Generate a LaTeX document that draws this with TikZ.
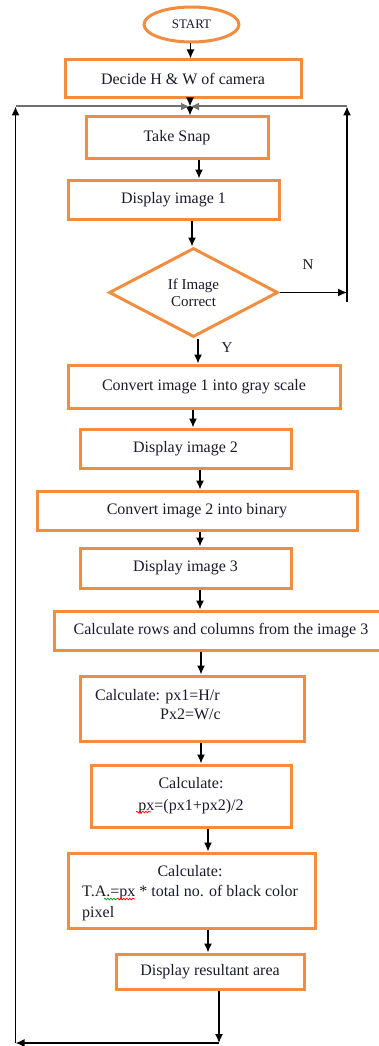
\documentclass[tikz,border=0pt]{standalone}
\usepackage{fontspec}
\setmainfont{Liberation Serif}
\usetikzlibrary{shapes.geometric,arrows.meta,decorations.pathmorphing}
\definecolor{boxorange}{HTML}{F28C3E}
\definecolor{toplinegray}{HTML}{707070}
\definecolor{inkblack}{HTML}{1A1A2A}
\begin{document}
\begin{tikzpicture}[x=1pt,y=-1pt,
  box/.style={draw=boxorange,line width=3pt,inner sep=0pt,align=center,text=inkblack,
    font=\fontsize{16}{22}\selectfont},
  txt/.style={inner sep=0pt,text=inkblack,font=\fontsize{16}{20}\selectfont},
  conn/.style={draw=black,line width=1.4pt,-{Latex[length=9pt,width=8pt]}},
  squig/.style={line width=0.7pt,decorate,decoration={snake,amplitude=0.8pt,segment length=3pt}}]
\useasboundingbox (0,0) rectangle (378,1046);

% nodes
\node[ellipse,draw=boxorange,line width=3pt,minimum width=95pt,minimum height=35pt,inner sep=0pt,
  text=inkblack,font=\fontsize{13}{14}\selectfont] (start) at (191.5,24.5) {START};
\node[box,minimum width=236pt,minimum height=38pt] (decide) at (183,79) {Decide H \& W of camera};
\node[box,minimum width=182pt,minimum height=41pt] (snap) at (177,137.5) {Take Snap};
\node[box,minimum width=211pt,minimum height=39pt] (disp1) at (173.5,199.5) {Display image 1};
\node[diamond,draw=boxorange,line width=3pt,minimum width=169pt,minimum height=89pt,inner sep=0pt,
  align=center,text=inkblack,font=\fontsize{15}{17}\selectfont] (dec) at (193.5,292.5) {If Image\\Correct};
\node[box,minimum width=272pt,minimum height=43pt] (conv1) at (204,386.5) {Convert image 1 into gray scale};
\node[box,minimum width=211pt,minimum height=39pt] (disp2) at (185.5,448.5) {Display image 2};
\node[box,minimum width=320pt,minimum height=39pt] (conv2) at (197,510.5) {Convert image 2 into binary};
\node[box,minimum width=211pt,minimum height=40pt] (disp3) at (185.5,568) {Display image 3};
\node[box,minimum width=334pt,minimum height=39pt] (rows) at (221,630.5) {Calculate rows and columns from the image 3};
\node[box,minimum width=224pt,minimum height=65pt] (calc1) at (192,708.5) {};
\node[txt,anchor=base west] (c1a) at (95,700) {Calculate: px1=H/r};
\node[txt,anchor=base west] (c1b) at (160,719) {Px2=W/c};
\node[box,minimum width=200pt,minimum height=62pt] (calc2) at (191,796) {Calculate:\\px=(px1+px2)/2};
\node[box,minimum width=247pt,minimum height=75pt] (calcta) at (191.5,890.5) {};
\node[txt,anchor=base] (ta1) at (190,876) {Calculate:};
\node[txt,anchor=base west] (ta2) at (82,896) {T.A.=px * total no. of black color};
\node[txt,anchor=base west] (ta3) at (82,917) {pixel};
\node[box,minimum width=188pt,minimum height=35pt] (result) at (210,971.5) {Display resultant area};

\node[inner sep=0pt,text=inkblack,font=\fontsize{15}{16}\selectfont] (nlab) at (308,265) {N};
\node[inner sep=0pt,text=inkblack,font=\fontsize{15}{16}\selectfont] (ylab) at (227,348) {Y};

% spell-check squiggles
\draw[squig,red] (136,812) -- (151,812);
\draw[squig,green!60!black] (104,899) -- (117,899);
\draw[squig,red] (117,899) -- (135,899);

% loop coordinates
\coordinate (J) at (190,106.5);
\coordinate (TL) at (15.5,106.5);
\coordinate (TR) at (347,106.5);
\coordinate (BR) at (347,292.5);
\coordinate (BRend) at (347,302);
\coordinate (BL) at (15.5,1043);
\coordinate (D) at (219,1043);

% main connectors
\draw[conn] (start.south -| 190.5,0) -- (decide.north -| 190.5,0);
\draw[conn] (decide.south -| J) -- (J);
\draw[conn] (J) -- (snap.north -| J);
\draw[conn] (snap.south -| 199,0) -- (disp1.north -| 199,0);
\draw[conn] (disp1.south -| 192,0) -- (dec.north -| 192,0);
\draw[conn] (dec.south -| 198,0) -- (conv1.north -| 198,0);
\draw[conn] (conv1.south -| 193,0) -- (disp2.north -| 193,0);
\draw[conn] (disp2.south -| 200,0) -- (conv2.north -| 200,0);
\draw[conn] (conv2.south -| 200,0) -- (disp3.north -| 200,0);
\draw[conn] (disp3.south -| 200,0) -- (rows.north -| 200,0);
\draw[conn] (rows.south -| 201,0) -- (calc1.north -| 201,0);
\draw[conn] (calc1.south -| 201,0) -- (calc2.north -| 201,0);
\draw[conn] (calc2.south -| 208,0) -- (calcta.north -| 208,0);
\draw[conn] (calcta.south -| 208,0) -- (result.north -| 208,0);

% "No" loop
\draw[conn] (dec.east) -- (BR);
\draw[conn] (BRend) -- (TR);
\draw[conn,draw=toplinegray,line width=2pt] (TR) -- (J);

% return loop
\draw[conn] (result.south -| D) -- (D);
\draw[conn] (D) -- (BL);
\draw[conn] (BL) -- (TL);
\draw[conn,draw=toplinegray,line width=2pt] (TL) -- (J);
\end{tikzpicture}
\end{document}
